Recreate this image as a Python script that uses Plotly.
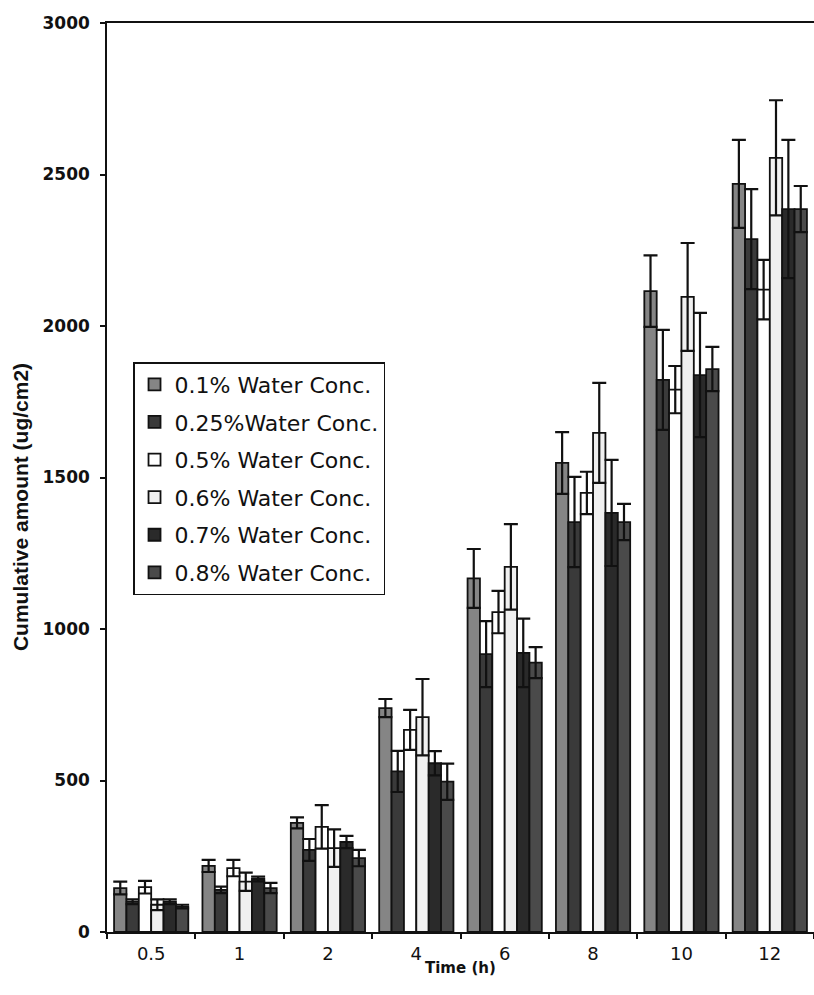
import plotly.graph_objects as go

categories = ["0.5", "1", "2", "4", "6", "8", "10", "12"]
series_names = ["0.1% Water Conc.", "0.25%Water Conc.", "0.5% Water Conc.",
                "0.6% Water Conc.", "0.7% Water Conc.", "0.8% Water Conc."]

v01 = [145, 218, 360, 739, 1167, 1548, 2115, 2469]
e01 = [21, 20, 18, 30, 97, 102, 118, 145]
v025 = [100, 139, 271, 530, 917, 1353, 1822, 2287]
e025 = [8, 11, 36, 68, 109, 149, 165, 165]
v05 = [148, 211, 347, 667, 1056, 1449, 1790, 2120]
e05 = [21, 27, 72, 66, 70, 70, 78, 98]
v06 = [90, 166, 277, 709, 1205, 1647, 2096, 2555]
e06 = [18, 30, 62, 126, 141, 165, 178, 190]
v07 = [100, 175, 297, 557, 921, 1383, 1838, 2386]
e07 = [8, 8, 20, 40, 113, 175, 205, 228]
v08 = [84, 145, 244, 496, 889, 1353, 1858, 2386]
e08 = [6, 17, 27, 60, 51, 60, 73, 76]

values = [v01, v025, v05, v06, v07, v08]
errors = [e01, e025, e05, e06, e07, e08]
colors = ["#858585", "#3a3a3a", "#ffffff", "#f0f0f0", "#2a2a2a", "#4a4a4a"]

fig = go.Figure()
for i, (name, v, e, c) in enumerate(zip(series_names, values, errors, colors)):
    fig.add_trace(go.Bar(
        x=categories, y=v, name=name, legendgroup=f"g{i}",
        marker=dict(color=c, line=dict(color="#111111", width=1.8)),
        error_y=dict(type="data", array=e, symmetric=True, color="#111111",
                     thickness=2.2, width=7),
    ))

fig.update_layout(
    width=814, height=995,
    margin=dict(l=107, r=0, t=23, b=63),
    paper_bgcolor="white", plot_bgcolor="white",
    barmode="group", bargap=0.16, bargroupgap=0,
    font=dict(family="DejaVu Sans", color="#111111"),
    showlegend=True,
    legend=dict(
        x=0.0368, y=0.627, xanchor="left", yanchor="top",
        bgcolor="white", bordercolor="#111111", borderwidth=1.5,
        font=dict(family="DejaVu Sans", size=22, color="#111111"),
        traceorder="grouped", tracegroupgap=6, itemwidth=30,
    ),
    xaxis=dict(
        type="category", tickson="boundaries", ticks="outside", ticklen=5,
        tickwidth=1.5, tickcolor="#111111", showline=True, linecolor="#111111",
        linewidth=1.5, mirror=True, showgrid=False, range=[-0.5, 7.5],
        tickfont=dict(family="DejaVu Sans", size=18, color="#111111"),
        ticklabelstandoff=5,
    ),
    yaxis=dict(
        range=[0, 3000], dtick=500, ticks="outside", ticklen=5, tickwidth=1.5,
        tickcolor="#111111", showline=True, linecolor="#111111", linewidth=1.5,
        showgrid=False, zeroline=False,
        tickfont=dict(family="DejaVu Sans", size=17, color="#111111", weight="bold"),
        ticklabelstandoff=7,
    ),
    annotations=[
        dict(text="<b>Time (h)</b>", xref="paper", yref="paper", x=0.5, y=-0.0396,
             xanchor="center", yanchor="middle", showarrow=False,
             font=dict(family="DejaVu Sans", size=15, color="#111111")),
        dict(text="<b>Cumulative amount (ug/cm2)</b>", xref="paper", yref="paper",
             x=-0.123, y=0.4675, xanchor="center", yanchor="middle", textangle=-90,
             showarrow=False,
             font=dict(family="Liberation Sans", size=21, color="#111111")),
    ],
)

fig.write_html("out.html")
